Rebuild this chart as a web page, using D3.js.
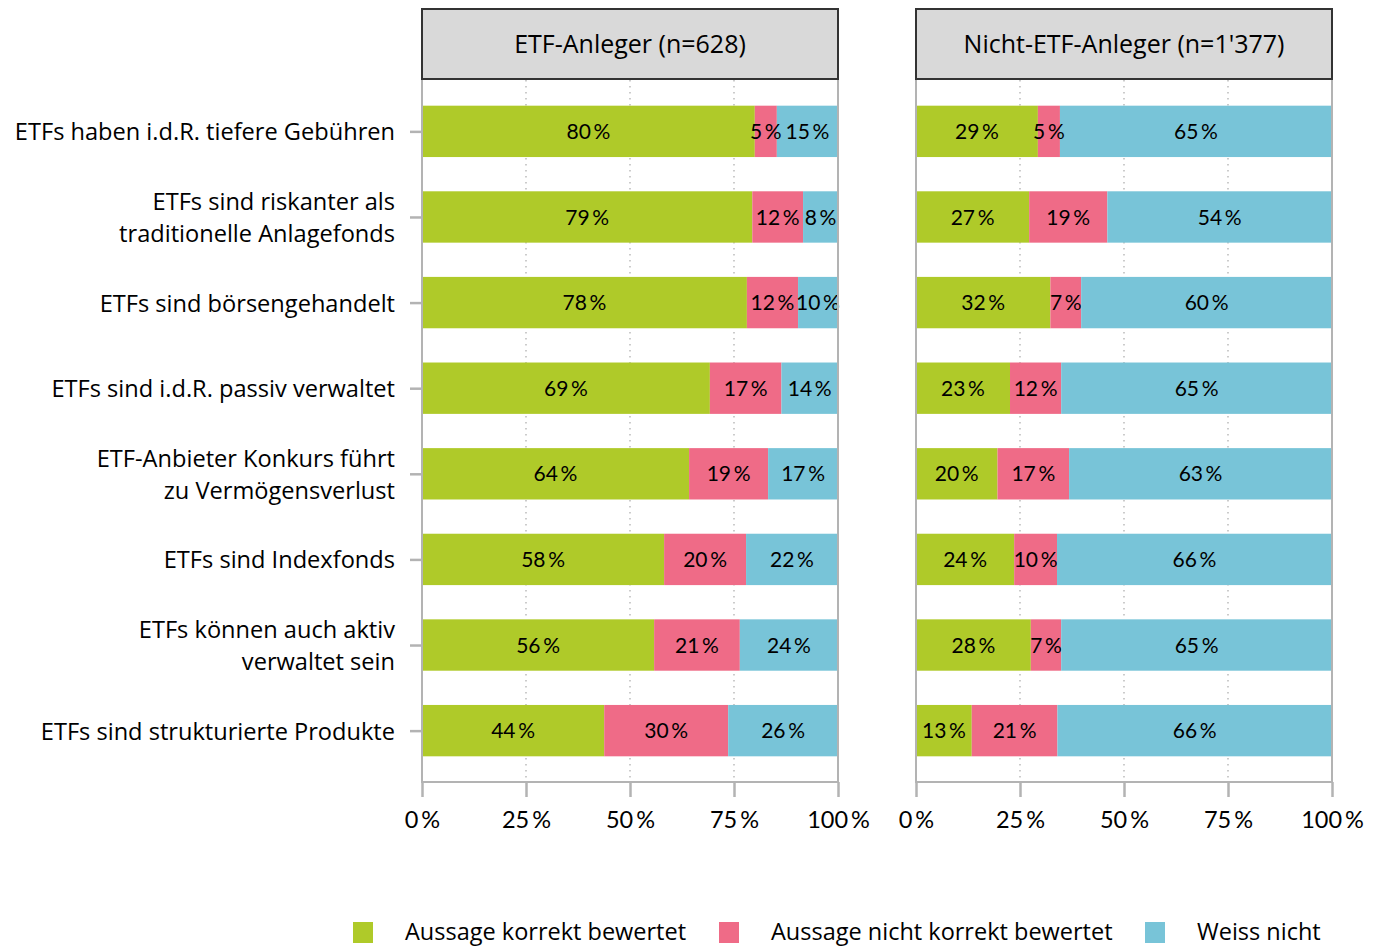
<!DOCTYPE html>
<html>
<head>
<meta charset="utf-8">
<script src="https://cdn.jsdelivr.net/npm/d3@7"></script>
<style>
  body { margin: 0; background: #fff; }
  text { font-family: "Open Sans", sans-serif; fill: #000; }
  .num { font-family: Lato, sans-serif; }
</style>
</head>
<body>
<svg class="chart" width="1384" height="949"></svg>
<script>
// statements, top to bottom
var statements = [
  "ETFs haben i.d.R. tiefere Gebühren",
  "ETFs sind riskanter als\ntraditionelle Anlagefonds",
  "ETFs sind börsengehandelt",
  "ETFs sind i.d.R. passiv verwaltet",
  "ETF-Anbieter Konkurs führt\nzu Vermögensverlust",
  "ETFs sind Indexfonds",
  "ETFs können auch aktiv\nverwaltet sein",
  "ETFs sind strukturierte Produkte"
];
var groups = ["ETF-Anleger (n=628)", "Nicht-ETF-Anleger (n=1'377)"];
var answers = ["Aussage korrekt bewertet", "Aussage nicht korrekt bewertet", "Weiss nicht"];
var colors = ["#afca29", "#ef6b87", "#78c4d8"];

// shares in % (ETF-Anleger)
var etfKorrekt = [80.0, 79.4, 78.1, 69.2, 64.2, 58.2, 55.8, 43.8];
var etfFalsch  = [5.3, 12.2, 12.3, 17.2, 19.0, 19.7, 20.6, 29.8];
var etfWeiss   = [14.7, 8.4, 9.6, 13.6, 16.8, 22.1, 23.6, 26.4];
// shares in % (Nicht-ETF-Anleger)
var nonKorrekt = [29.3, 27.2, 32.3, 22.6, 19.6, 23.6, 27.6, 13.4];
var nonFalsch  = [5.3, 18.8, 7.4, 12.3, 17.2, 10.3, 7.3, 20.6];
var nonWeiss   = [65.4, 54.0, 60.3, 65.1, 63.2, 66.1, 65.1, 66.0];

var xTicks = [0, 25, 50, 75, 100];

var panelData = [
  [etfKorrekt, etfFalsch, etfWeiss],
  [nonKorrekt, nonFalsch, nonWeiss]
];

var m = {top: 80, bottom: 167},
    h = 949 - m.top - m.bottom;
var panelX = [422, 916], pw = 416;

var svg = d3.select(".chart");
var y = d3.scalePoint().domain(statements).range([m.top, m.top + h]).padding(0.6);
var barH = y.step() * 0.6;
var pct = function(v) { return v + "\u2009%"; };

panelData.forEach(function(series, pi) {
  var x = d3.scaleLinear().domain([0, 100]).range([panelX[pi], panelX[pi] + pw]);
  var g = svg.append("g");

  // dotted grid
  g.selectAll(".grid").data([25, 50, 75]).enter().append("line")
    .attr("x1", x).attr("x2", x)
    .attr("y1", m.top).attr("y2", m.top + h)
    .attr("stroke", "#aaa").attr("stroke-width", 1.2)
    .attr("stroke-dasharray", "1.5,4.5");

  // stacked rows
  var rows = statements.map(function(s, i) {
    var x0 = 0;
    return series.map(function(arr, k) {
      var seg = {stmt: s, k: k, v: arr[i], x0: x0};
      x0 += arr[i];
      return seg;
    });
  });
  var segs = d3.merge(rows);

  g.selectAll(".bar").data(segs).enter().append("rect")
    .attr("x", function(d) { return x(d.x0); })
    .attr("width", function(d) { return x(d.x0 + d.v) - x(d.x0); })
    .attr("y", function(d) { return y(d.stmt) - barH / 2; })
    .attr("height", barH)
    .attr("fill", function(d) { return colors[d.k]; });

  g.selectAll(".lbl").data(segs).enter().append("text")
    .attr("class", "num")
    .attr("x", function(d) { return x(d.x0 + d.v / 2); })
    .attr("y", function(d) { return y(d.stmt); })
    .attr("dy", "0.36em")
    .attr("text-anchor", "middle")
    .style("font-size", "21px")
    .text(function(d) { return pct(Math.round(d.v)); });

  // frame (left, right, bottom)
  g.append("path")
    .attr("d", "M" + x(0) + "," + m.top + "V" + (m.top + h) + "H" + x(100) + "V" + m.top)
    .attr("fill", "none").attr("stroke", "#b3b3b3").attr("stroke-width", 2);

  // x axis
  var ax = g.append("g").attr("transform", "translate(0," + (m.top + h) + ")")
    .call(d3.axisBottom(x).tickValues(xTicks).tickSize(15).tickPadding(14).tickFormat(pct));
  ax.select(".domain").remove();
  ax.selectAll(".tick line").attr("stroke", "#b3b3b3").attr("stroke-width", 2.5);
  ax.selectAll(".tick text").attr("class", "num").style("font-size", "23.5px").attr("fill", "#000");

  // strip
  g.append("rect").attr("x", x(0)).attr("y", 9).attr("width", pw).attr("height", 70)
    .attr("fill", "#d9d9d9").attr("stroke", "#333").attr("stroke-width", 2);
  g.append("text").attr("x", x(50)).attr("y", 44).attr("dy", "0.36em")
    .attr("text-anchor", "middle").style("font-size", "25px").text(groups[pi]);
});

// y axis on the left panel
var ay = svg.append("g").attr("transform", "translate(" + panelX[0] + ",0)")
  .call(d3.axisLeft(y).tickSize(12).tickPadding(14).tickFormat(""));
ay.select(".domain").remove();
ay.selectAll(".tick line").attr("stroke", "#b3b3b3").attr("stroke-width", 2.5);

// one text per line so two-line labels stay apart
ay.selectAll(".tick").each(function(d) {
  var lines = d.split("\n");
  var t = d3.select(this);
  lines.forEach(function(l, j) {
    t.append("text")
      .attr("x", -27).attr("text-anchor", "end")
      .attr("y", (j - (lines.length - 1) / 2) * 32.5)
      .attr("dy", "0.36em")
      .style("font-size", "23.6px")
      .attr("fill", "#000")
      .text(l);
  });
});

// legend
var legX = [353, 719, 1145];
var leg = svg.selectAll(".leg").data(answers).enter().append("g")
  .attr("transform", function(d, i) { return "translate(" + legX[i] + ",922)"; });
leg.append("rect").attr("width", 20).attr("height", 21)
  .attr("fill", function(d, i) { return colors[i]; });
leg.append("text").attr("x", 52).attr("y", 10).attr("dy", "0.36em")
  .style("font-size", "23.5px").text(String);
</script>
</body>
</html>
